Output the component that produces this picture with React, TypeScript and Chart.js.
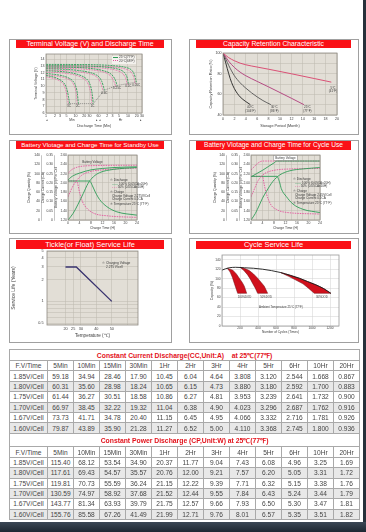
import React, { useEffect, useRef } from 'react';
import { Chart, registerables } from 'chart.js';

Chart.register(...registerables);

const FONT = "'Liberation Sans', Arial, Helvetica, sans-serif";
const NARROW = "'Liberation Sans Narrow', 'Arial Narrow', 'Liberation Sans', Arial, sans-serif";
const INK = '#3a3a3a';
const GRID = '#bdb8ae';
const PLOT_BG = '#e2ded6';
const FRAME = '#8f8b83';
const GREEN = '#2e9c57';
const PINK = '#e2549c';
const RED = '#fa1016';

Chart.defaults.font.family = FONT;

type Pt = [number, number];

// ---------------- Panel 1: Terminal voltage vs discharge time ----------------
const P1_XTICKS = [1, 2, 3, 5, 10, 20, 30, 60, 120, 180, 300, 600, 1200, 1800];
const P1_XLABELS = ['1', '2', '3', '5', '10', '20', '30', '60', '2', '3', '5', '10', '20', '30'];
const P1_YTICKS = [6, 7, 8, 9, 10, 11, 12, 13, 14];
const P1_G_3C: Pt[] = [[1, 11.6], [2, 11.3], [3, 10.95], [4, 10.5], [5, 9.7], [5.8, 8.4], [6.3, 7.4]];
const P1_G_2C: Pt[] = [[1, 11.9], [2, 11.75], [4, 11.5], [6, 11.2], [8, 10.8], [10, 10.1], [11.5, 9.0], [12.5, 7.4]];
const P1_G_1C: Pt[] = [[1, 12.3], [3, 12.2], [6, 12.05], [10, 11.85], [16, 11.55], [22, 11.2], [28, 10.7], [33, 9.9], [37, 8.8], [40, 7.4]];
const P1_G_06C: Pt[] = [[1, 12.6], [5, 12.5], [15, 12.3], [30, 12.05], [50, 11.7], [65, 11.3], [78, 10.7], [88, 10.0], [95, 9.4]];
const P1_G_025C: Pt[] = [[1, 12.85], [10, 12.8], [40, 12.6], [90, 12.3], [150, 11.9], [195, 11.4], [230, 10.8], [255, 10.1]];
const P1_G_01C: Pt[] = [[1, 13.05], [20, 13.0], [100, 12.85], [250, 12.6], [400, 12.25], [500, 11.8], [570, 11.2], [620, 10.4]];
const P1_G_005C: Pt[] = [[1, 13.25], [40, 13.2], [200, 13.05], [500, 12.8], [800, 12.4], [980, 11.8], [1080, 11.2], [1150, 10.6]];
const P1_P_3C: Pt[] = [[1, 11.4], [2, 11.1], [3, 10.75], [4, 10.2], [4.8, 9.2], [5.3, 8.2], [5.7, 7.4]];
const P1_P_2C: Pt[] = [[1, 11.7], [2, 11.55], [4, 11.3], [6, 11.0], [8, 10.5], [9.5, 9.8], [10.8, 8.7], [11.5, 7.4]];
const P1_P_1C: Pt[] = [[1, 12.1], [3, 12.0], [6, 11.85], [10, 11.65], [16, 11.3], [22, 10.9], [27, 10.3], [31, 9.5], [34, 8.5], [36, 7.4]];
const P1_P_06C: Pt[] = [[1, 12.4], [5, 12.3], [15, 12.1], [30, 11.85], [50, 11.45], [62, 11.0], [72, 10.4], [80, 9.8], [86, 9.3]];
const P1_P_025C: Pt[] = [[1, 12.65], [10, 12.6], [40, 12.4], [90, 12.1], [145, 11.65], [180, 11.1], [210, 10.5], [232, 9.9]];
const P1_P_01C: Pt[] = [[1, 12.85], [20, 12.8], [100, 12.65], [250, 12.35], [380, 11.95], [470, 11.45], [530, 10.9], [570, 10.2]];
const P1_P_005C: Pt[] = [[1, 13.05], [40, 13.0], [200, 12.85], [500, 12.55], [760, 12.1], [920, 11.5], [1010, 10.9], [1060, 10.4]];
const P1_CUTOFF: Pt[] = [[5.5, 7.4], [40, 7.4], [95, 9.4], [255, 10.1], [620, 10.4], [1150, 10.6]];
const P1_RATES = ['3C', '2C', '1C', '0.6C', '0.25C', '0.1C', '0.05C'];
const P1_RATE_X = [6, 12, 38, 95, 255, 620, 1150];
const P1_RATE_Y = [7.0, 7.0, 7.0, 9.0, 9.7, 10.0, 10.2];

// ---------------- Panel 2: capacity retention ----------------
const P2_XTICKS = [0, 2, 4, 6, 8, 10, 12, 14, 16, 18, 20];
const P2_YTICKS = [40, 50, 60, 70, 80, 90, 100];
const P2_5C: Pt[] = [[0, 100], [1, 95.5], [2, 92.5], [3, 90.2], [4, 88.6], [6, 86.4], [8, 84.3], [10, 82.1], [12, 79.9], [14, 77.6], [16, 75.3], [18, 73], [19, 71.8]];
const P2_25C: Pt[] = [[0, 100], [1, 92], [2, 86], [3, 81.5], [4, 78], [6, 72.5], [8, 67.2], [10, 61.7], [12, 56.2], [14.2, 50]];
const P2_30C: Pt[] = [[0, 100], [0.5, 94], [1, 88], [2, 78], [3, 71.2], [4, 66], [5, 61.5], [6, 57.5], [7, 54], [8.4, 50]];
const P2_40C: Pt[] = [[0, 100], [0.5, 90], [1, 80], [1.5, 71.5], [2, 65.5], [2.5, 61], [3, 57.5], [4, 53], [4.8, 50]];
const P2_LABELS = ['5°C\n(41°F)', '25°C\n(77°F)', '30°C\n(86°F)', '40°C\n(104°F)'];
const P2_LABEL_X = [19.3, 14.8, 9, 4.8];
const P2_LABEL_Y = [64.5, 45.5, 45.5, 45.5];

// ---------------- Panels 3/4: charge characteristics ----------------
const CH_XTICKS = [0, 2, 4, 6, 8, 10, 12, 14, 16, 18, 20, 22, 24];
const CH_VTICKS = [1.2, 1.4, 1.6, 1.8, 2.0, 2.2, 2.4, 2.6];
const CH_CTICKS = [0, 0.05, 0.1, 0.15, 0.2, 0.25, 0.3, 0.35];
const CH_QTICKS = [0, 20, 40, 60, 80, 100, 120, 140];
const S_VOLT_G: Pt[] = [[0, 2.06], [1, 2.12], [2, 2.16], [4, 2.21], [6, 2.25], [8, 2.28], [12, 2.31], [16, 2.33], [24, 2.345]];
const S_VOLT_P: Pt[] = [[0, 2.2], [1, 2.27], [2, 2.31], [4, 2.35], [8, 2.37], [24, 2.38]];
const S_QTY_G: Pt[] = [[0, 0], [1.75, 14], [3.5, 34], [5.3, 57], [7, 79], [8.8, 93], [11, 102], [15.8, 109], [24, 113]];
const S_QTY_P: Pt[] = [[0, 50], [1, 64], [2.3, 79], [4.7, 96], [7.6, 104], [12, 108], [24, 112]];
const S_CUR_G: Pt[] = [[0, 0.21], [7.5, 0.21], [8.5, 0.184], [9.5, 0.15], [11, 0.11], [13.5, 0.072], [17, 0.044], [24, 0.026]];
const S_CUR_P: Pt[] = [[0, 0.21], [3, 0.21], [4, 0.15], [5, 0.1], [6.5, 0.064], [9, 0.036], [14, 0.022], [24, 0.014]];
const C_VOLT_G: Pt[] = [[0, 2.13], [2, 2.2], [4, 2.27], [6, 2.35], [8, 2.43], [9, 2.47], [24, 2.47]];
const C_VOLT_P: Pt[] = [[0, 2.28], [1, 2.34], [2.3, 2.42], [4, 2.47], [24, 2.47]];
const C_QTY_G: Pt[] = [[0, 0], [1.5, 14], [2.9, 32], [4, 47], [5.3, 61], [7.6, 83], [10, 97], [13.5, 106], [18, 110], [24, 113]];
const C_QTY_P: Pt[] = [[0, 50], [1.2, 67], [2.3, 83], [3.5, 93], [4.7, 100], [8, 107], [14, 110], [24, 111]];
const C_CUR_G: Pt[] = [[0, 0.235], [9, 0.235], [10, 0.2], [10.5, 0.17], [12.3, 0.126], [14.6, 0.086], [18, 0.058], [24, 0.04]];
const C_CUR_P: Pt[] = [[0, 0.235], [4, 0.235], [4.6, 0.19], [5.3, 0.144], [7, 0.08], [9, 0.056], [11, 0.044], [24, 0.032]];

// ---------------- Panel 5: float life ----------------
const P5_XTICKS = [20, 25, 30, 40, 50, 60];
const P5_XLABELS = ['20', '25', '30', '40', '50', ''];
const P5_YTICKS = [0.5, 0.6, 0.7, 0.8, 0.9, 1, 2, 3, 4, 5];
const P5_YLABELS = ['0.5', '', '', '', '', '1', '2', '3', '4', '5'];
const P5_LIFE: Pt[] = [[20, 3], [27, 3], [50, 1]];

// ---------------- Panel 6: cycle life ----------------
const P6_XTICKS = [0, 200, 400, 600, 800, 1000, 1200];
const P6_YTICKS = [0, 20, 40, 60, 80, 100, 120, 140];
const P6_MAIN: Pt[] = [[0, 118], [40, 121], [80, 123], [150, 124], [250, 123], [350, 122], [450, 120], [550, 117], [650, 113], [760, 107], [858, 101], [950, 94], [1043, 87], [1130, 79], [1210, 69]];
const P6_W100: Pt[] = [[60, 122], [120, 118], [160, 110], [192, 101], [225, 92], [248, 84], [274, 69], [174, 69], [155, 80], [137, 90], [115, 103], [90, 114], [60, 122]];
const P6_W50: Pt[] = [[200, 124], [260, 121], [303, 117], [350, 110], [396, 101], [440, 91], [470, 84], [507, 69], [396, 69], [370, 80], [340, 90], [315, 99], [285, 108], [240, 118], [200, 124]];
const P6_W30: Pt[] = [[650, 113], [760, 107], [858, 101], [950, 94], [1043, 87], [1130, 79], [1210, 69], [1025, 69], [960, 80], [900, 89], [821, 97], [740, 105], [650, 113]];
const P6_LABELS = ['100%DOD', '50%DOD', '30%DOD', 'Ambient Temperature 25°C (77°F)'];
const P6_LABEL_X = [250, 490, 1110, 655];
const P6_LABEL_Y = [60, 60, 60, 39.5];

// ---------------- Tables ----------------
const TIME_COLS = ['5Min', '10Min', '15Min', '30Min', '1Hr', '2Hr', '3Hr', '4Hr', '5Hr', '6Hr', '10Hr', '20Hr'];
const FV_ROWS = ['1.85V/Cell', '1.80V/Cell', '1.75V/Cell', '1.70V/Cell', '1.67V/Cell', '1.60V/Cell'];
const CC_185 = ['59.18', '34.94', '28.46', '17.90', '10.45', '6.04', '4.64', '3.808', '3.120', '2.544', '1.668', '0.867'];
const CC_180 = ['60.31', '35.60', '28.98', '18.24', '10.65', '6.15', '4.73', '3.880', '3.180', '2.592', '1.700', '0.883'];
const CC_175 = ['61.44', '36.27', '30.51', '18.58', '10.86', '6.27', '4.81', '3.953', '3.239', '2.641', '1.732', '0.900'];
const CC_170 = ['66.97', '38.45', '32.22', '19.32', '11.04', '6.38', '4.90', '4.023', '3.296', '2.687', '1.762', '0.916'];
const CC_167 = ['73.73', '41.71', '34.78', '20.40', '11.15', '6.45', '4.95', '4.066', '3.332', '2.716', '1.781', '0.926'];
const CC_160 = ['79.87', '43.89', '35.90', '21.28', '11.27', '6.52', '5.00', '4.110', '3.368', '2.745', '1.800', '0.936'];
const CP_185 = ['115.40', '68.12', '53.54', '34.90', '20.37', '11.77', '9.04', '7.43', '6.08', '4.96', '3.25', '1.69'];
const CP_180 = ['117.61', '69.43', '54.57', '35.57', '20.76', '12.00', '9.21', '7.57', '6.20', '5.05', '3.31', '1.72'];
const CP_175 = ['119.81', '70.73', '55.59', '36.24', '21.15', '12.22', '9.39', '7.71', '6.32', '5.15', '3.38', '1.76'];
const CP_170 = ['130.59', '74.97', '58.92', '37.68', '21.52', '12.44', '9.55', '7.84', '6.43', '5.24', '3.44', '1.79'];
const CP_167 = ['143.77', '81.34', '63.93', '39.79', '21.75', '12.57', '9.66', '7.93', '6.50', '5.30', '3.47', '1.81'];
const CP_160 = ['155.76', '85.58', '67.26', '41.49', '21.99', '12.71', '9.76', '8.01', '6.57', '5.35', '3.51', '1.82'];

// ---------------- helpers ----------------
const fixTicks = (vals: number[]) => (scale: any) => {
  scale.ticks = vals.map((v) => ({ value: v }));
};
const zeroPad = (s: any) => {
  s.paddingTop = 0; s.paddingBottom = 0; s.paddingLeft = 0; s.paddingRight = 0;
};
const fixW = (w: number) => (s: any) => { s.width = w; zeroPad(s); };
const fixH = (h: number) => (s: any) => { s.height = h; zeroPad(s); };
const fnt = (size: number, weight?: string) => ({ family: FONT, size, weight });

function areaPlugin(bg: string | null, frame: string | null) {
  return {
    id: 'area',
    beforeDraw(chart: any) {
      if (!bg) return;
      const a = chart.chartArea;
      const ctx = chart.ctx;
      ctx.save();
      ctx.fillStyle = bg;
      ctx.fillRect(a.left, a.top, a.right - a.left, a.bottom - a.top);
      ctx.restore();
    },
    afterDraw(chart: any) {
      if (!frame) return;
      const a = chart.chartArea;
      const ctx = chart.ctx;
      ctx.save();
      ctx.strokeStyle = frame;
      ctx.lineWidth = 0.8;
      ctx.strokeRect(a.left, a.top, a.right - a.left, a.bottom - a.top);
      ctx.restore();
    },
  };
}

type Note = { x: number; y: number; t: string; size?: number; color?: string; yAxis?: string; box?: boolean; bold?: boolean };

function notesPlugin(notes: Note[]) {
  return {
    id: 'notes',
    afterDatasetsDraw(chart: any) {
      const ctx = chart.ctx;
      for (const n of notes) {
        const xs = chart.scales.x;
        const ys = chart.scales[n.yAxis || 'y'];
        const px = xs.getPixelForValue(n.x);
        const py = ys.getPixelForValue(n.y);
        const size = n.size || 3.4;
        ctx.save();
        ctx.font = `${n.bold ? 'bold ' : ''}${size}px ${FONT}`;
        ctx.textAlign = 'center';
        ctx.textBaseline = 'middle';
        const lines = n.t.split('\n');
        if (n.box) {
          const w = Math.max(...lines.map((l) => ctx.measureText(l).width)) + 3;
          const h = lines.length * size * 1.15 + 1.5;
          ctx.fillStyle = '#ffffff';
          ctx.fillRect(px - w / 2, py - h / 2, w, h);
          ctx.strokeStyle = '#777';
          ctx.lineWidth = 0.4;
          ctx.strokeRect(px - w / 2, py - h / 2, w, h);
        }
        ctx.fillStyle = n.color || INK;
        lines.forEach((ln, i) => ctx.fillText(ln, px, py + (i - (lines.length - 1) / 2) * size * 1.15));
        ctx.restore();
      }
    },
  };
}

const line = (data: Pt[], color: string, dash: number[] = [], width = 0.8, extra: any = {}) => ({
  data,
  borderColor: color,
  backgroundColor: color,
  borderWidth: width,
  borderDash: dash,
  pointRadius: 0,
  fill: false,
  cubicInterpolationMode: 'monotone',
  ...extra,
});

const baseOptions = (padding: any) => ({
  animation: false,
  responsive: false,
  events: [],
  layout: { padding },
  plugins: { legend: { display: false }, tooltip: { enabled: false } },
});

const gridStyle = (color = GRID, display = true) => ({ display, color, lineWidth: 0.5, drawTicks: false });

// ---------------- chart configs ----------------
function p1Config() {
  const greens = [P1_G_3C, P1_G_2C, P1_G_1C, P1_G_06C, P1_G_025C, P1_G_01C, P1_G_005C].map((d) => line(d, GREEN, [2, 0.8], 0.9));
  const pinks = [P1_P_3C, P1_P_2C, P1_P_1C, P1_P_06C, P1_P_025C, P1_P_01C, P1_P_005C].map((d) => line(d, PINK, [0.8, 0.8], 0.9));
  const notes: Note[] = P1_RATES.map((t, i) => ({ x: P1_RATE_X[i], y: P1_RATE_Y[i], t, size: 3 }));
  return {
    type: 'line',
    data: { datasets: [...greens, ...pinks, line(P1_CUTOFF, '#555555', [1, 1], 0.6, { cubicInterpolationMode: 'default', tension: 0 })] },
    options: {
      ...baseOptions({ left: 24.5, top: 5, right: 30, bottom: 6.5 }),
      scales: {
        x: {
          type: 'logarithmic', min: 1, max: 1800,
          afterBuildTicks: fixTicks(P1_XTICKS), afterFit: fixH(15.5),
          ticks: { autoSkip: false, maxRotation: 0, padding: 1, font: fnt(3.6), color: INK, callback: (_v: any, i: number) => P1_XLABELS[i] },
          grid: gridStyle(), border: { display: false },
          title: { display: true, text: 'Discharge Time (Min)', font: fnt(3.6), color: INK, padding: 0 },
        },
        y: {
          type: 'linear', min: 6, max: 14.8,
          afterBuildTicks: fixTicks(P1_YTICKS), afterFit: fixW(12.5),
          ticks: { autoSkip: false, padding: 1.5, font: fnt(3.6), color: INK, callback: (v: any) => String(v) },
          grid: gridStyle(), border: { display: false },
          title: { display: true, text: 'Terminal Voltage (V)', font: fnt(3.6), color: INK, padding: 0 },
        },
      },
    },
    plugins: [areaPlugin(PLOT_BG, FRAME), notesPlugin(notes)],
  };
}

function p2Config() {
  const notes: Note[] = P2_LABELS.map((t, i) => ({ x: P2_LABEL_X[i], y: P2_LABEL_Y[i], t, size: 3 }));
  return {
    type: 'line',
    data: {
      datasets: [
        line(P2_5C, '#d9416b', [], 0.9),
        line(P2_25C, '#b03a7a', [], 0.9),
        line(P2_30C, '#555555', [], 0.9),
        line(P2_40C, '#222222', [], 0.9),
      ],
    },
    options: {
      ...baseOptions({ left: 20, top: 4, right: 22, bottom: 7 }),
      scales: {
        x: {
          type: 'linear', min: 0, max: 20,
          afterBuildTicks: fixTicks(P2_XTICKS), afterFit: fixH(13),
          ticks: { autoSkip: false, maxRotation: 0, padding: 1.5, font: fnt(3.6), color: INK },
          grid: gridStyle(), border: { display: false },
          title: { display: true, text: 'Storage Period (Month)', font: fnt(3.8), color: INK, padding: 0 },
        },
        y: {
          type: 'linear', min: 40, max: 100,
          afterBuildTicks: fixTicks(P2_YTICKS), afterFit: fixW(14),
          ticks: { autoSkip: false, padding: 1.5, font: fnt(3.6), color: INK, callback: (v: any) => (v % 20 === 0 ? String(v) : '') },
          grid: gridStyle(), border: { display: false },
          title: { display: true, text: 'Capacity Retention Ratio (%)', font: fnt(3.8), color: INK, padding: 0 },
        },
      },
    },
    plugins: [areaPlugin(PLOT_BG, FRAME), notesPlugin(notes)],
  };
}

function chargeConfig(d: any, pad: any, widths: number[], notes: Note[]) {
  const tf = fnt(3.4);
  const sideAxis = (weight: number, min: number, max: number, ticks: number[], title: string, w: number, fmt: (v: number) => string, grid: boolean) => ({
    type: 'linear', position: 'left', weight, min, max,
    afterBuildTicks: fixTicks(ticks), afterFit: fixW(w),
    ticks: { autoSkip: false, padding: 1, font: tf, color: INK, callback: (v: any) => fmt(v) },
    grid: gridStyle(GRID, grid),
    border: { display: !grid, color: '#8a8a8a', width: 0.5 },
    title: { display: true, text: title, font: tf, color: INK, padding: 0 },
  });
  return {
    type: 'line',
    data: {
      datasets: [
        line(d.voltG, GREEN, [], 0.9, { yAxisID: 'yV' }),
        line(d.voltP, PINK, [1.5, 1], 0.9, { yAxisID: 'yV' }),
        line(d.qtyG, GREEN, [], 0.9, { yAxisID: 'yQ' }),
        line(d.qtyP, PINK, [1.5, 1], 0.9, { yAxisID: 'yQ' }),
        line(d.curG, GREEN, [], 0.9, { yAxisID: 'yC' }),
        line(d.curP, PINK, [1.5, 1], 0.9, { yAxisID: 'yC' }),
      ],
    },
    options: {
      ...baseOptions(pad),
      scales: {
        x: {
          type: 'linear', min: 0, max: 24,
          afterBuildTicks: fixTicks(CH_XTICKS), afterFit: fixH(10),
          ticks: { autoSkip: false, maxRotation: 0, padding: 1, font: tf, color: INK, callback: (v: any) => (v % 4 === 0 ? String(v) : '') },
          grid: gridStyle(), border: { display: false },
          title: { display: true, text: 'Charge Time (H)', font: tf, color: INK, padding: 0 },
        },
        yV: sideAxis(1, 1.2, 2.6, CH_VTICKS, 'Battery Voltage (V)/Per Cell', widths[2], (v) => v.toFixed(2), true),
        yC: sideAxis(2, 0, 0.35, CH_CTICKS, 'Charge Current (CA)', widths[1], (v) => (v === 0 ? '0' : v.toFixed(2)), false),
        yQ: sideAxis(3, 0, 140, CH_QTICKS, 'Charge Quantity (%)', widths[0], (v) => String(v), false),
      },
    },
    plugins: [areaPlugin(PLOT_BG, FRAME), notesPlugin(notes)],
  };
}

function p3Config() {
  return chargeConfig(
    { voltG: S_VOLT_G, voltP: S_VOLT_P, qtyG: S_QTY_G, qtyP: S_QTY_P, curG: S_CUR_G, curP: S_CUR_P },
    { left: 18, top: 5, right: 35, bottom: 4 },
    [14, 13, 14],
    [{ x: 8.5, y: 2.44, t: 'Battery Voltage', yAxis: 'yV', size: 3 }]
  );
}

function p4Config() {
  return chargeConfig(
    { voltG: C_VOLT_G, voltP: C_VOLT_P, qtyG: C_QTY_G, qtyP: C_QTY_P, curG: C_CUR_G, curP: C_CUR_P },
    { left: 24, top: 5, right: 39, bottom: 4 },
    [13, 13, 12],
    [{ x: 12, y: 2.54, t: 'Battery Voltage', yAxis: 'yV', size: 3, box: true }]
  );
}

function p5Config() {
  return {
    type: 'line',
    data: { datasets: [line(P5_LIFE, '#39336f', [], 1.3, { cubicInterpolationMode: 'default', tension: 0 })] },
    options: {
      ...baseOptions({ left: 1.5, top: 2, right: 34, bottom: 5 }),
      scales: {
        x: {
          type: 'linear', min: 8, max: 67,
          afterBuildTicks: fixTicks(P5_XTICKS), afterFit: fixH(13),
          ticks: { autoSkip: false, maxRotation: 0, padding: 2, font: fnt(3.8), color: INK, callback: (_v: any, i: number) => P5_XLABELS[i] },
          grid: gridStyle(), border: { display: false },
          title: { display: true, text: 'Temperature (℃)', font: fnt(4.6), color: INK, padding: 0 },
        },
        y: {
          type: 'logarithmic', min: 0.47, max: 5,
          afterBuildTicks: fixTicks(P5_YTICKS), afterFit: fixW(36.5),
          ticks: { autoSkip: false, padding: 3.5, font: fnt(3.8), color: INK, callback: (_v: any, i: number) => P5_YLABELS[i] },
          grid: gridStyle(), border: { display: false },
          title: { display: true, text: 'Service Life (Years)', font: fnt(5), color: INK, padding: 0 },
        },
      },
    },
    plugins: [areaPlugin(PLOT_BG, FRAME)],
  };
}

function p6Config() {
  const notes: Note[] = P6_LABELS.map((t, i) => ({ x: P6_LABEL_X[i], y: P6_LABEL_Y[i], t, size: i === 3 ? 2.9 : 2.8 }));
  const wedge = (d: Pt[]) => line(d, '#6a0c12', [], 0.5, { cubicInterpolationMode: 'default', tension: 0, fill: 'shape', backgroundColor: '#d0101c' });
  return {
    type: 'line',
    data: {
      datasets: [
        line(P6_MAIN, '#1a1a1a', [], 0.9),
        wedge(P6_W100),
        wedge(P6_W50),
        wedge(P6_W30),
      ],
    },
    options: {
      ...baseOptions({ left: 21, top: 6, right: 20, bottom: 8.6 }),
      scales: {
        x: {
          type: 'linear', min: 0, max: 1300,
          afterBuildTicks: fixTicks(P6_XTICKS), afterFit: fixH(8.4),
          ticks: { autoSkip: false, maxRotation: 0, padding: 0.5, font: fnt(3.2), color: INK, callback: (v: any) => (v === 0 ? '' : String(v)) },
          grid: gridStyle('#d0d0d0'), border: { display: false },
          title: { display: true, text: 'Number of Cycles (Times)', font: fnt(3.2), color: INK, padding: 0 },
        },
        y: {
          type: 'linear', min: 0, max: 150,
          afterBuildTicks: fixTicks(P6_YTICKS), afterFit: fixW(12),
          ticks: { autoSkip: false, padding: 1.5, font: fnt(3.2), color: INK },
          grid: gridStyle('#d0d0d0'), border: { display: false },
          title: { display: true, text: 'Capacity (%)', font: fnt(3.4), color: INK, padding: 0 },
        },
      },
    },
    plugins: [areaPlugin(null, '#9a9a9a'), notesPlugin(notes)],
  };
}

// ---------------- components ----------------
function ChartCanvas({ x, y, w, h, make }: { x: number; y: number; w: number; h: number; make: () => any }) {
  const ref = useRef<HTMLCanvasElement>(null);
  useEffect(() => {
    const chart = new Chart(ref.current as HTMLCanvasElement, make());
    return () => chart.destroy();
  }, []);
  return <canvas ref={ref} width={w} height={h} style={{ position: 'absolute', left: x, top: y, width: w, height: h }} />;
}

function Panel({ x, y, w, h, title, size, bt, bh, bw }: any) {
  return (
    <div style={{ position: 'absolute', left: x, top: y, width: w, height: h, boxSizing: 'border-box', border: '1px solid #a0a0a0' }}>
      <div
        style={{
          position: 'absolute', left: 6, top: bt, width: bw, height: bh, background: RED, color: '#fff',
          fontSize: size, lineHeight: `${bh}px`, textAlign: 'center', whiteSpace: 'nowrap', overflow: 'hidden', fontFamily: FONT,
        }}
      >
        {title}
      </div>
    </div>
  );
}

const tiny = (size: number): React.CSSProperties => ({ fontSize: size, lineHeight: `${size * 1.15}px`, color: INK, fontFamily: FONT, whiteSpace: 'nowrap' });

function ChargeLegend({ x, y, volt }: { x: number; y: number; volt: string }) {
  return (
    <div style={{ position: 'absolute', left: x, top: y, ...tiny(3.1) }}>
      <div>① Discharge</div>
      <div style={{ paddingLeft: 2 }}><span style={{ color: GREEN }}>——</span> 100% (0.05CAx20H)</div>
      <div style={{ paddingLeft: 2 }}><span style={{ color: PINK }}>- - -</span> 50% (0.05CAx10H)</div>
      <div style={{ marginTop: 1.5 }}>② Charge</div>
      <div style={{ paddingLeft: 2 }}>Charge Voltage {volt}</div>
      <div style={{ paddingLeft: 2 }}>Charge Current 0.1CA</div>
      <div style={{ marginTop: 1.5 }}>③ Temperature 25°C (77°F)</div>
    </div>
  );
}

function DataTable() {
  const cell: React.CSSProperties = {
    border: '1px solid #a9a9a9', padding: 0, textAlign: 'center', fontFamily: NARROW, fontSize: 6.6,
    color: '#454545', whiteSpace: 'nowrap', overflow: 'hidden', lineHeight: '9px',
  };
  const titleCell: React.CSSProperties = {
    border: '1px solid #a9a9a9', padding: 0, textAlign: 'center', fontFamily: FONT, fontWeight: 'bold',
    fontSize: 6.8, color: '#e3121b', whiteSpace: 'nowrap',
  };
  const section = (title: string, rows: string[][], th: number) => [
    <tr key={title + 't'} style={{ height: th }}>
      <td colSpan={13} style={titleCell}>{title}</td>
    </tr>,
    <tr key={title + 'h'} style={{ height: 10.4 }}>
      <td style={cell}>F.V/Time</td>
      {TIME_COLS.map((c) => <td key={c} style={cell}>{c}</td>)}
    </tr>,
    ...rows.map((r, i) => (
      <tr key={title + i} style={{ height: 10.4, background: i % 2 === 1 ? '#e8e8e8' : '#ffffff' }}>
        <td style={cell}>{FV_ROWS[i]}</td>
        {r.map((v, j) => <td key={j} style={cell}>{v}</td>)}
      </tr>
    )),
  ];
  return (
    <table
      style={{ position: 'absolute', left: 9, top: 349, width: 350, borderCollapse: 'collapse', tableLayout: 'fixed', background: '#fff' }}
    >
      <colgroup>
        <col style={{ width: 38 }} />
        {TIME_COLS.map((c) => <col key={c} style={{ width: 26 }} />)}
      </colgroup>
      <tbody>
        {section('Constant Current Discharge(CC,Unit:A)\u00a0\u00a0\u00a0\u00a0at 25℃(77℉)', [CC_185, CC_180, CC_175, CC_170, CC_167, CC_160], 11)}
        {section('Constant Power Discharge (CP,Unit:W) at 25℃(77℉)', [CP_185, CP_180, CP_175, CP_170, CP_167, CP_160], 13.6)}
      </tbody>
    </table>
  );
}

export default function App() {
  return (
    <div style={{ position: 'absolute', left: 0, top: 0, width: 366, height: 532, background: '#ffffff', overflow: 'hidden', fontFamily: FONT }}>
      <Panel x={9} y={39} w={163} h={96} bt={0} bh={8} bw={148} size={7} title="Terminal Voltage (V) and Discharge Time" />
      <Panel x={189} y={39} w={170} h={96} bt={0} bh={8} bw={155} size={6.8} title="Capacity Retention Characteristic" />
      <Panel x={9} y={140} w={163} h={94} bt={0} bh={8} bw={148} size={6.2} title="Battery Vlotage and Charge Time for Standby Use" />
      <Panel x={189} y={140} w={170} h={94} bt={0} bh={8.5} bw={155} size={6.6} title="Battery Vlotage and Charge Time for Cycle Use" />
      <Panel x={9} y={238} w={163} h={105} bt={1} bh={9} bw={148} size={7.4} title="Tickle(or Float) Service Life" />
      <Panel x={189} y={238} w={170} h={105} bt={1.5} bh={8.5} bw={155} size={7.4} title="Cycle Service Life" />

      <ChartCanvas x={9} y={49} w={163} h={86} make={p1Config} />
      <ChartCanvas x={189} y={49} w={170} h={86} make={p2Config} />
      <ChartCanvas x={9} y={150} w={163} h={84} make={p3Config} />
      <ChartCanvas x={189} y={150} w={170} h={84} make={p4Config} />
      <ChartCanvas x={9} y={249} w={163} h={94} make={p5Config} />
      <ChartCanvas x={189} y={249} w={170} h={94} make={p6Config} />

      {/* Panel 1 legend and time-unit row */}
      <div style={{ position: 'absolute', left: 112, top: 55.5, background: '#f4f2ee', padding: '0.5px 1px', ...tiny(3.1) }}>
        <div><span style={{ display: 'inline-block', width: 5, borderTop: `1px dashed ${GREEN}`, verticalAlign: 'middle', marginRight: 1 }} />25°C(77°F)</div>
        <div><span style={{ display: 'inline-block', width: 5, borderTop: `1px dotted ${PINK}`, verticalAlign: 'middle', marginRight: 1 }} />20°C(68°F)</div>
      </div>
      <div style={{ position: 'absolute', left: 46, top: 118.5, width: 52, display: 'flex', justifyContent: 'space-between', ...tiny(3.3) }}>
        <span>◂</span><span>Min</span><span>▸</span>
      </div>
      <div style={{ position: 'absolute', left: 99, top: 118.5, width: 43, display: 'flex', justifyContent: 'space-between', ...tiny(3.3) }}>
        <span>◂</span><span>Hr</span><span>▸</span>
      </div>

      <ChargeLegend x={110} y={179} volt="2.275V/Cell" />
      <ChargeLegend x={293} y={178} volt="2.45V/Cell" />

      <div style={{ position: 'absolute', left: 102, top: 262, ...tiny(3.2) }}>
        <div>① Charging Voltage</div>
        <div style={{ paddingLeft: 4 }}>2.275 V/cell</div>
      </div>

      <DataTable />

      <div style={{ position: 'absolute', left: 363, top: 0, width: 3, height: 532, background: '#27313b' }} />
      <div style={{ position: 'absolute', left: 0, top: 522, width: 366, height: 10, background: 'linear-gradient(#3b4755, #1d2731)' }} />
    </div>
  );
}
